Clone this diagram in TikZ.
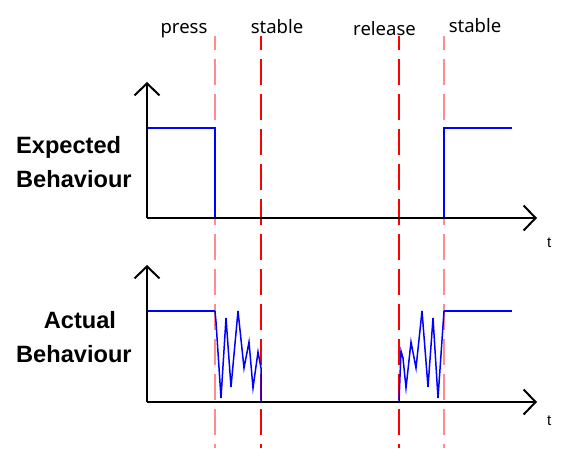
\documentclass[tikz,border=0pt]{standalone}
\usepackage{fontspec}
\setmainfont{Liberation Sans}
\newfontfamily\toplabfont{Noto Sans}
\usetikzlibrary{arrows.meta}
\definecolor{sigblue}{RGB}{0,0,255}
\definecolor{lightred}{RGB}{255,140,140}
\definecolor{strongred}{RGB}{255,0,0}
\begin{document}
\begin{tikzpicture}[x=1pt,y=-1pt,
  axisline/.style={line width=2pt,black,-{Straight Barb[length=12pt,width=25pt]}},
  sig/.style={line width=2pt,sigblue},
  bounce/.style={line width=1.5pt,sigblue,line join=miter},
  marker/.style={line width=1.6pt,dash pattern=on 26pt off 9pt,dash phase=12pt},
  toplab/.style={font=\toplabfont\fontsize{18.5}{20}\selectfont,anchor=base,inner sep=0pt},
  rowlab/.style={font=\bfseries\fontsize{23.6}{26}\selectfont,anchor=base west,inner sep=0pt},
  tlab/.style={font=\fontsize{15}{16}\selectfont,anchor=base west,inner sep=0pt}]
\useasboundingbox (0,0) rectangle (569,469);
% coordinates
\coordinate (o1) at (147,218);
\coordinate (y1) at (147,82);
\coordinate (x1) at (537,218);
\coordinate (o2) at (147,402);
\coordinate (y2) at (147,265);
\coordinate (x2) at (537,402);
% dashed markers
\coordinate (pT) at (215,36); \coordinate (pB) at (215,448);
\coordinate (sT) at (261,36); \coordinate (sB) at (261,448);
\coordinate (rT) at (399,36); \coordinate (rB) at (399,448);
\coordinate (s2T) at (444,36); \coordinate (s2B) at (444,448);
\draw[marker,lightred] (pT) -- (pB);
\draw[marker,strongred] (sT) -- (sB);
\draw[marker,strongred] (rT) -- (rB);
\draw[marker,lightred] (s2T) -- (s2B);
% expected signal
\draw[sig] (147,128) -- (215,128) -- (215,218) -- (444,218) -- (444,128) -- (512,128);
% actual signal
\draw[sig] (147,311) -- (215,311);
\draw[bounce] (215,311) -- (216,322) -- (221,398) -- (226,318) -- (231,387) -- (238,311) -- (244,368) -- (249,342) -- (253,388) -- (258,352) -- (261,368) -- (261,402);
\draw[sig] (261,402) -- (399,402);
\draw[bounce] (399,402) -- (401,351) -- (403,358) -- (406,388) -- (411,342) -- (416,368) -- (422,311) -- (428,387) -- (433,318) -- (438,398) -- (444,311);
\draw[sig] (444,311) -- (512,311);
% axes
\draw[axisline] (o1) -- (y1);
\draw[axisline] (o1) -- (x1);
\draw[axisline] (o2) -- (y2);
\draw[axisline] (o2) -- (x2);
% labels
\node[toplab] (lpress) at (184,33) {press};
\node[toplab] (lstable) at (277,33) {stable};
\node[toplab] (lrelease) at (384.5,35) {release};
\node[toplab] (lstable2) at (475,32) {stable};
\node[rowlab] (e1) at (16,153) {Expected};
\node[rowlab] (e2) at (16,187) {Behaviour};
\node[rowlab,anchor=base] (a1) at (80,328) {Actual};
\node[rowlab] (a2) at (16,362) {Behaviour};
\node[tlab] (t1) at (547,247) {t};
\node[tlab] (t2) at (547,425) {t};
\end{tikzpicture}
\end{document}
